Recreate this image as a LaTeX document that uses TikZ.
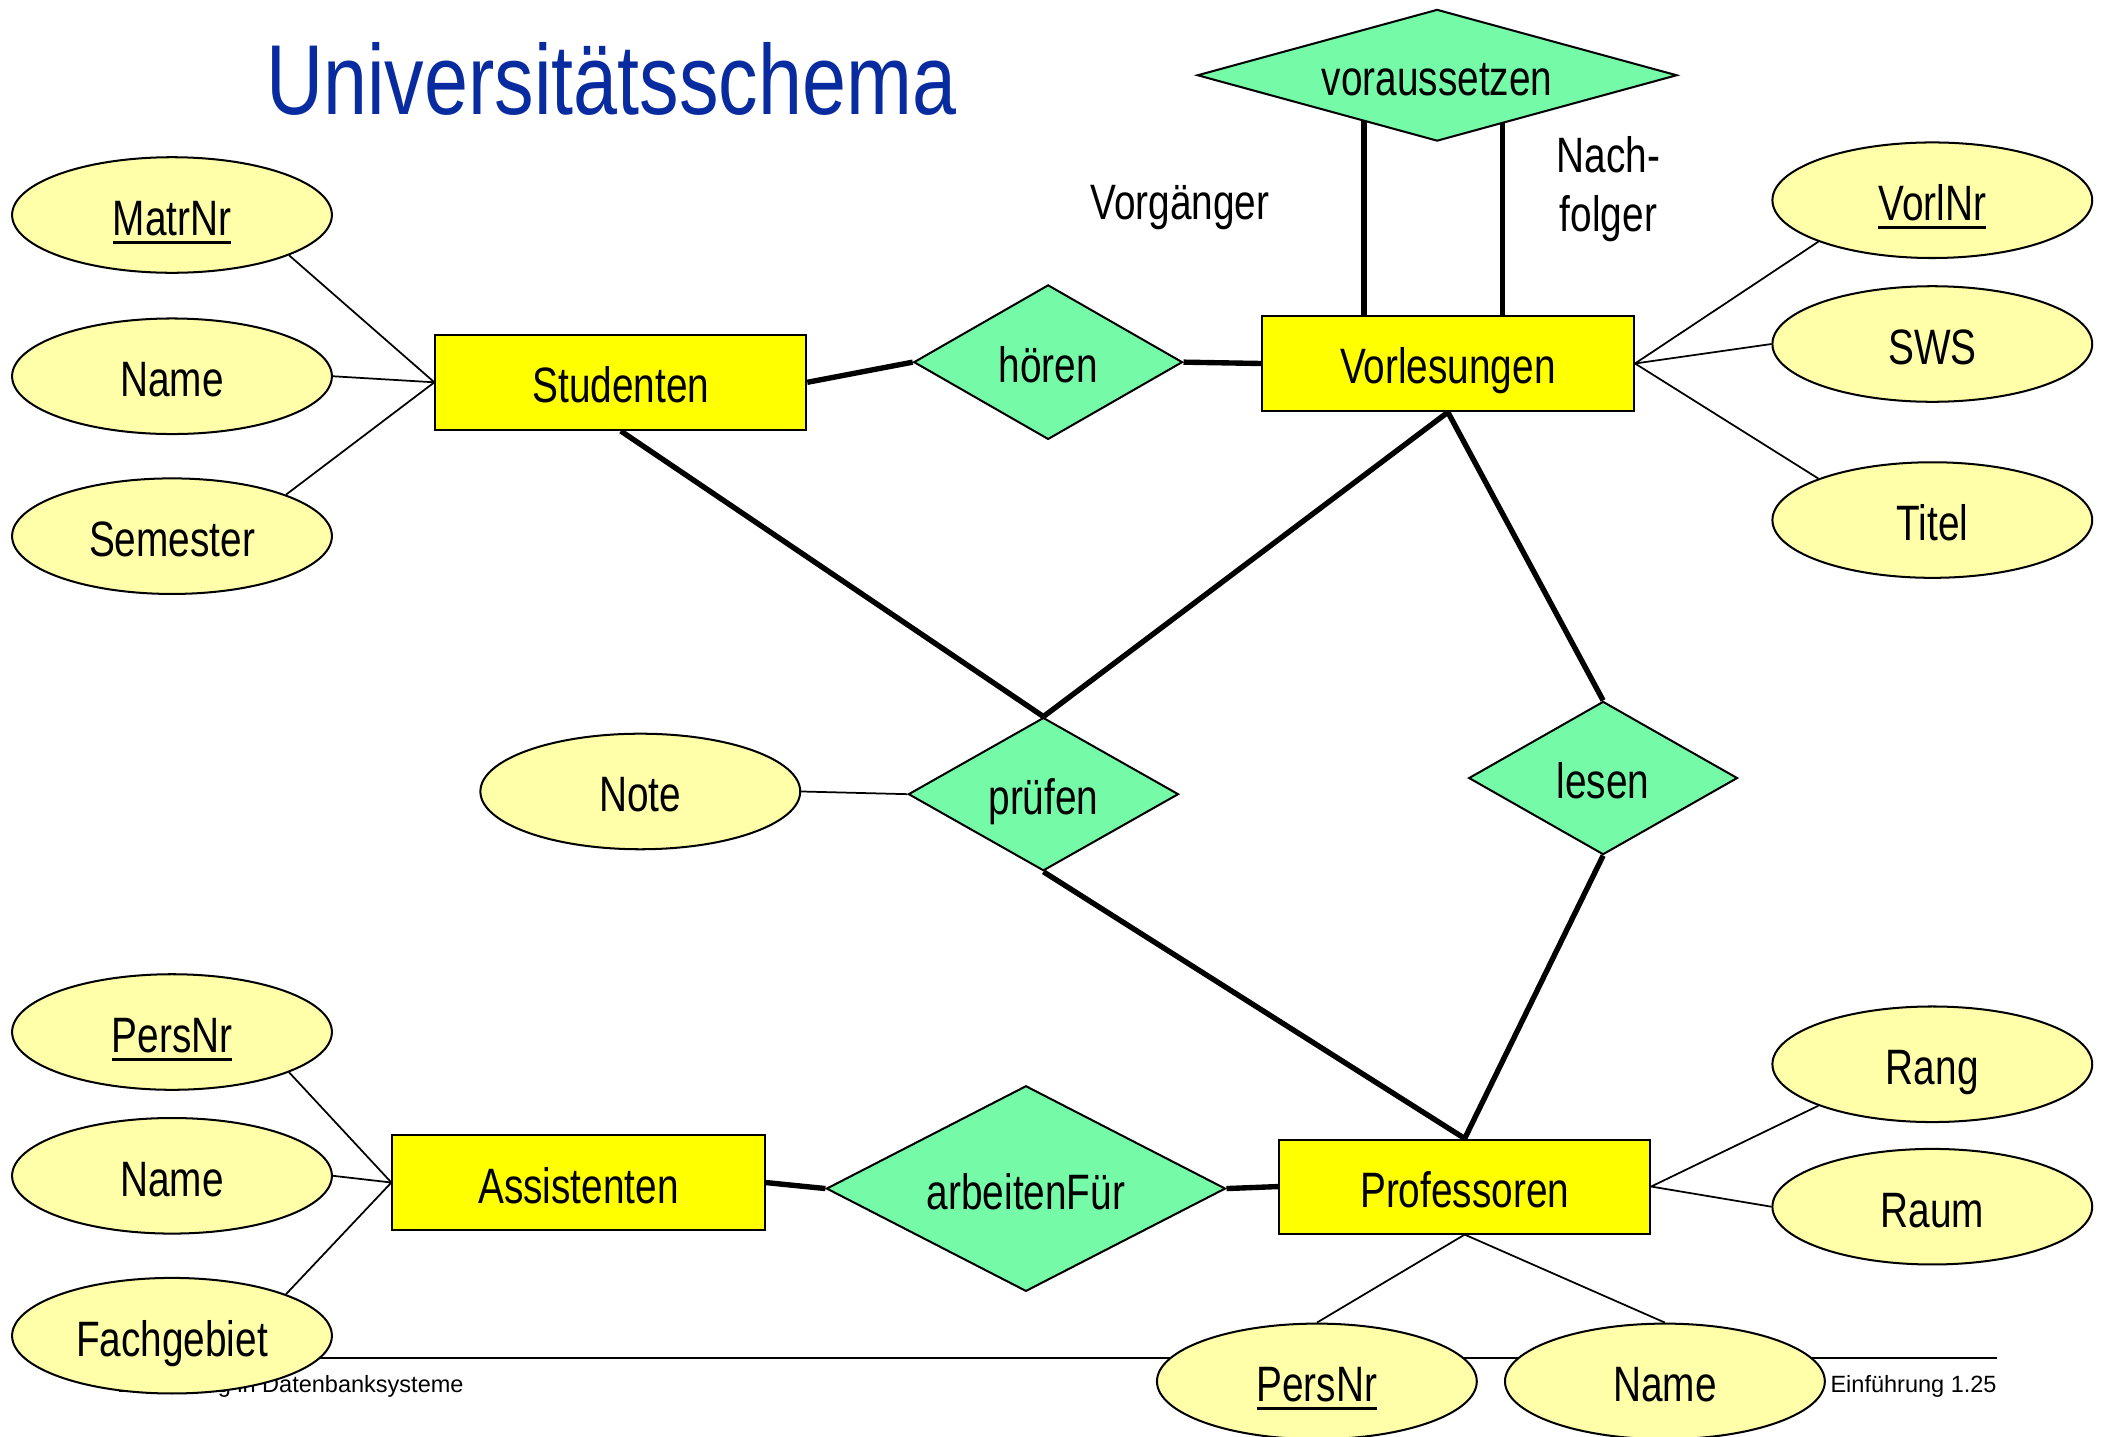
\documentclass[tikz,border=0pt]{standalone}
\usepackage{fontspec}
\setmainfont{Liberation Sans}[FakeStretch=0.78]
\newfontfamily\footfont{Liberation Sans}
\newfontfamily\titlefont{Liberation Sans}[FakeStretch=0.795]
\usetikzlibrary{shapes.geometric}
\definecolor{entyellow}{RGB}{255,255,0}
\definecolor{attryellow}{RGB}{255,255,170}
\definecolor{relgreen}{RGB}{117,250,168}
\definecolor{titleblue}{RGB}{8,43,160}
% underlined key attribute with a heavier rule
\newcommand\keyattr[1]{\setbox0=\hbox{#1}\rlap{\rule[-6pt]{\wd0}{2pt}}\box0}
\pgfdeclarelayer{background}
\pgfsetlayers{background,main}
\begin{document}
\begin{tikzpicture}[x=1pt,y=-1pt,
  every node/.style={font=\fontsize{37}{44}\selectfont,inner sep=0pt,text height=30.5pt,text depth=0pt},
  entity/.style={draw,line width=1.5pt,fill=entyellow,minimum width=276pt,minimum height=71pt},
  attr/.style={ellipse,draw,line width=1.5pt,fill=attryellow,minimum width=238pt,minimum height=86pt},
  rel/.style={diamond,draw,line width=1.5pt,fill=relgreen},
  link/.style={line width=4pt},
  thinlink/.style={line width=1.3pt},
  footline/.style={line width=2pt},
  foot/.style={font=\footfont\fontsize{17.5}{20}\selectfont,text height=,text depth=}]
\useasboundingbox (0,0) rectangle (1568,1069);

% title
\node[anchor=base west,text=titleblue,font=\titlefont\fontsize{74}{80}\selectfont,text height=,text depth=] (title) at (198,85) {Universitätsschema};

% entities
\node[entity] (stud) at (462,284.5) {Studenten};
\node[entity,minimum width=277pt] (vorl) at (1077.5,270.5) {Vorlesungen};
\node[entity,minimum width=277pt,minimum height=70pt] (assi) at (430.5,880) {Assistenten};
\node[entity,minimum height=70pt] (prof) at (1090,883) {Professoren};

% relationships
\node[rel,minimum width=357pt,minimum height=98pt,aspect=3.64] (vor) at (1069.5,56) {voraussetzen};
\node[rel,minimum width=200pt,minimum height=115pt,aspect=1.74] (hoeren) at (780,269.5) {hören};
\node[rel,minimum width=201pt,minimum height=114pt,aspect=1.76] (pruefen) at (776.5,591) {prüfen};
\node[rel,minimum width=200pt,minimum height=114pt,aspect=1.75] (lesen) at (1193,579) {lesen};
\node[rel,minimum width=297pt,minimum height=153pt,aspect=1.94] (arbeit) at (763.5,884.5) {arbeitenFür};

% role names
\node (vorg) at (878,148) {Vorgänger};
\node[align=center,text height=,text depth=] (nachf) at (1197,141) {Nach-\\folger};

% footer
\coordinate (fl) at (82,1010.5);
\coordinate (fr) at (1486,1010.5);
\begin{pgfonlayer}{background}
\draw[footline] (fl) -- (fr);
\node[foot,anchor=base west] (footl) at (87,1036) {Einführung in Datenbanksysteme};
\node[foot,anchor=base east] (footr) at (1486,1036) {Einführung 1.25};
\end{pgfonlayer}

% attributes
\node[attr] (matr) at (128,160) {\keyattr{MatrNr}};
\node[attr] (sname) at (128,280) {Name};
\node[attr] (sem) at (128,399) {Semester};
\node[attr] (vnr) at (1438,149) {\keyattr{VorlNr}};
\node[attr] (sws) at (1438,256) {SWS};
\node[attr] (titel) at (1438,387) {Titel};
\node[attr] (note) at (476.5,589) {Note};
\node[attr] (apers) at (128,768) {\keyattr{PersNr}};
\node[attr] (aname) at (128,875) {Name};
\node[attr] (fach) at (128,994) {Fachgebiet};
\node[attr] (rang) at (1438,792) {Rang};
\node[attr] (raum) at (1438,898) {Raum};
\node[attr] (ppers) at (980,1028) {\keyattr{PersNr}};
\node[attr] (pname) at (1239,1028) {Name};

\begin{pgfonlayer}{background}
% relationship links
\draw[link] (stud.east) -- (hoeren.west);
\draw[link] (hoeren.east) -- (vorl.west);
\draw[link] (stud.south) -- (pruefen.north);
\draw[link] (vorl.south) -- (pruefen.north);
\draw[link] (vorl.south) -- (lesen.north);
\draw[link] (pruefen.south) -- (prof.north);
\draw[link] (lesen.south) -- (prof.north);
\draw[link] (assi.east) -- (arbeit.west);
\draw[link] (arbeit.east) -- (prof.west);
\draw[link] ([xshift=-62.5pt]vorl.north) -- ([xshift=-62.5pt]vorl.north |- vor.center);
\draw[link] ([xshift=40.5pt]vorl.north) -- ([xshift=40.5pt]vorl.north |- vor.center);
% attribute links
\draw[thinlink] (matr.341) -- (stud.west);
\draw[thinlink] (sname.east) -- (stud.west);
\draw[thinlink] (sem.20) -- (stud.west);
\draw[thinlink] (vnr.200) -- (vorl.east);
\draw[thinlink] (sws.west) -- (vorl.east);
\draw[thinlink] (titel.160) -- (vorl.east);
\draw[thinlink] (note.east) -- (pruefen.west);
\draw[thinlink] (apers.341) -- (assi.west);
\draw[thinlink] (aname.east) -- (assi.west);
\draw[thinlink] (fach.20) -- (assi.west);
\draw[thinlink] (rang.200) -- (prof.east);
\draw[thinlink] (raum.west) -- (prof.east);
\draw[thinlink] (ppers.north) -- (prof.south);
\draw[thinlink] (pname.north) -- (prof.south);
\end{pgfonlayer}
\end{tikzpicture}
\end{document}
